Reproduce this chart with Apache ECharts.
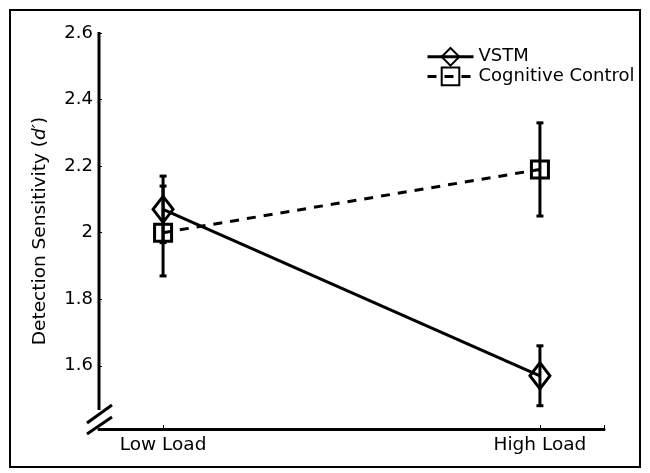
<!DOCTYPE html>
<html>
<head>
<meta charset="utf-8">
<script src="https://cdn.jsdelivr.net/npm/echarts@6/dist/echarts.min.js"></script>
<style>html,body{margin:0;padding:0;background:#fff}#c{width:650px;height:473px}</style>
</head>
<body>
<div id="c"></div>
<script>
const categories = ['Low Load', 'High Load'];
const xPos = [1, 2];
const vstmMean = [2.07, 1.57];
const vstmLow = [1.97, 1.48];
const vstmHigh = [2.17, 1.66];
const ccMean = [2.00, 2.19];
const ccLow = [1.87, 2.05];
const ccHigh = [2.14, 2.33];
const yTicks = [1.6, 1.8, 2, 2.2, 2.4, 2.6];
const xMin = 0.83, xMax = 2.17, yMin = 1.41, yMax = 2.6;

const FONT = '"DejaVu Sans", sans-serif';
const chart = echarts.init(document.getElementById('c'));

function errData(mean, lo, hi) {
  return xPos.map((x, i) => [x, lo[i], hi[i], mean[i]]);
}
function errRender(params, api) {
  const x = api.value(0);
  const p1 = api.coord([x, api.value(1)]);
  const p2 = api.coord([x, api.value(2)]);
  const cw = 3.5;
  const st = { stroke: '#000', lineWidth: 3 };
  return {
    type: 'group',
    children: [
      { type: 'line', shape: { x1: p1[0], y1: p1[1], x2: p2[0], y2: p2[1] }, style: st },
      { type: 'line', shape: { x1: p1[0] - cw, y1: p1[1], x2: p1[0] + cw, y2: p1[1] }, style: st },
      { type: 'line', shape: { x1: p2[0] - cw, y1: p2[1], x2: p2[0] + cw, y2: p2[1] }, style: st }
    ]
  };
}

const option = {
  animation: false,
  backgroundColor: '#fff',
  textStyle: { fontFamily: FONT, color: '#000' },
  grid: { left: 99, right: 46, top: 33, bottom: 44, containLabel: false },
  legend: {
    left: 421, top: 42, orient: 'vertical', itemGap: 0,
    itemWidth: 46, itemHeight: 22,
    lineStyle: { width: 3 },
    textStyle: { fontFamily: FONT, fontSize: 18, color: '#000' },
    data: ['VSTM', 'Cognitive Control']
  },
  xAxis: {
    type: 'value', min: xMin, max: xMax,
    splitLine: { show: false },
    axisLine: { show: true, lineStyle: { color: '#000', width: 3 } },
    axisTick: { show: true, inside: true, length: 4, customValues: [1, 2, xMax], lineStyle: { color: '#000', width: 1 } },
    axisLabel: {
      customValues: xPos, margin: 7, fontSize: 18.5, color: '#000', fontFamily: FONT,
      formatter: v => categories[xPos.indexOf(Math.round(v))] || ''
    }
  },
  yAxis: {
    type: 'value', min: yMin, max: yMax,
    name: 'Detection Sensitivity ({i|d\u2032})',
    nameLocation: 'middle', nameGap: 49,
    nameTextStyle: { fontSize: 18.5, color: '#000', fontFamily: FONT,
      rich: { i: { fontStyle: 'italic', fontSize: 18.5, fontFamily: FONT, color: '#000' } } },
    splitLine: { show: false },
    axisLine: { show: false },
    axisTick: { show: true, inside: true, length: 3, customValues: yTicks, lineStyle: { color: '#000', width: 1 } },
    axisLabel: { customValues: yTicks, margin: 6, fontSize: 18, color: '#000', fontFamily: FONT }
  },
  series: [
    {
      name: 'VSTM', type: 'line', z: 3,
      data: xPos.map((x, i) => [x, vstmMean[i]]),
      symbol: 'diamond', symbolSize: [20, 26],
      lineStyle: { color: '#000', width: 3 },
      itemStyle: { color: 'rgba(255,255,255,0)', borderColor: '#000', borderWidth: 3 }
    },
    {
      name: 'Cognitive Control', type: 'line', z: 3,
      data: xPos.map((x, i) => [x, ccMean[i]]),
      symbol: 'rect', symbolSize: 17,
      lineStyle: { color: '#000', width: 3, type: [9, 8] },
      itemStyle: { color: 'rgba(255,255,255,0)', borderColor: '#000', borderWidth: 3 }
    },
    {
      name: 'VSTM', type: 'custom', renderItem: errRender, data: errData(vstmMean, vstmLow, vstmHigh),
      encode: { x: 0, y: [1, 2] }, z: 1, silent: true, legendHoverLink: false
    },
    {
      name: 'Cognitive Control', type: 'custom', renderItem: errRender, data: errData(ccMean, ccLow, ccHigh),
      encode: { x: 0, y: [1, 2] }, z: 1, silent: true, legendHoverLink: false
    }
  ]
};
chart.setOption(option);

// decorations: outer frame, y-axis line with break marks
const pTop = chart.convertToPixel({ gridIndex: 0 }, [xMin, yMax]);
const pOrigin = chart.convertToPixel({ gridIndex: 0 }, [xMin, yMin]);
const ax = pOrigin[0], ay = pOrigin[1];
const ls = { stroke: '#000', lineWidth: 3 };
chart.setOption({
  graphic: [
    { type: 'rect', shape: { x: 10, y: 10, width: 630, height: 457 }, style: { fill: 'none', stroke: '#000', lineWidth: 2 }, silent: true, z: 0 },
    { type: 'line', shape: { x1: ax, y1: pTop[1] - 1, x2: ax, y2: ay - 19 }, style: ls, silent: true },
    { type: 'line', shape: { x1: ax - 12, y1: ay - 6, x2: ax + 13, y2: ay - 24 }, style: ls, silent: true },
    { type: 'line', shape: { x1: ax - 12, y1: ay + 5, x2: ax + 13, y2: ay - 12 }, style: ls, silent: true }
  ]
});
</script>
</body>
</html>
